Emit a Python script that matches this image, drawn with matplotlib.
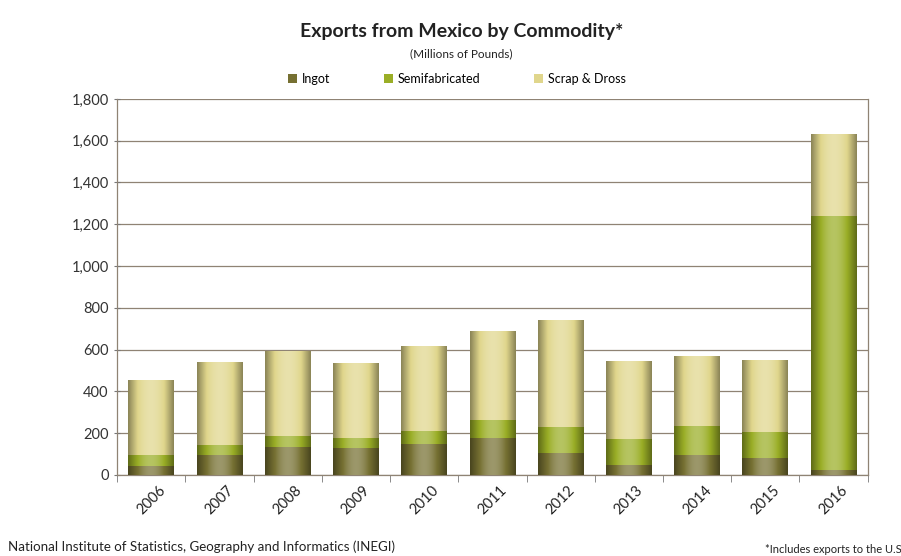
import numpy as np
import matplotlib
matplotlib.use("Agg")
import matplotlib.pyplot as plt
from matplotlib.colors import to_rgb

plt.rcParams['font.family'] = ['Lato', 'DejaVu Sans']

years = ['2006', '2007', '2008', '2009', '2010', '2011',
         '2012', '2013', '2014', '2015', '2016']
ingot = [40, 96, 133, 128, 150, 175, 104, 48, 96, 80, 25]
semifabricated = [56, 48, 51, 48, 62, 88, 127, 123, 139, 123, 1213]
scrap_dross = [356, 394, 407, 359, 406, 424, 512, 372, 335, 348, 396]

series_names = ['Ingot', 'Semifabricated', 'Scrap & Dross']
series_colors = ['#767032', '#9aae26', '#e0d68c']


def shade_bar(ax, patch, color):
    """Overlay a cylinder-like horizontal gradient on a bar patch."""
    x0, y0 = patch.get_x(), patch.get_y()
    w, h = patch.get_width(), patch.get_height()
    if h <= 0:
        return
    t = np.linspace(0, 1, 64)
    s = np.sin(np.pi * np.clip(t * 0.8 + 0.1, 0, 1)) ** 1.3
    light = 0.45 + 0.8 * s
    base = np.array(to_rgb(color))
    rgb = np.empty((1, t.size, 3))
    for i, l in enumerate(light):
        if l <= 1:
            rgb[0, i] = base * l
        else:
            rgb[0, i] = base + (1 - base) * (l - 1) * 1.1
    img = ax.imshow(np.clip(rgb, 0, 1), extent=(x0, x0 + w, y0, y0 + h),
                    aspect='auto', interpolation='bilinear', zorder=3)
    img.set_clip_path(patch)


fig = plt.figure(figsize=(9.01, 5.56), dpi=100)
ax = fig.add_axes([0.13, 0.146, 0.833, 0.676])

x = np.arange(len(years))
width = 0.67
bottom = np.zeros(len(years))
handles = []
for name, vals, col in zip(series_names,
                           [ingot, semifabricated, scrap_dross],
                           series_colors):
    bars = ax.bar(x, vals, width, bottom=bottom, color=col, label=name,
                  zorder=2, linewidth=0)
    for p in bars:
        shade_bar(ax, p, col)
    handles.append(bars)
    bottom += np.array(vals)

ax.set_xlim(-0.5, len(years) - 0.5)
ax.set_ylim(0, 1800)
ax.set_yticks(np.arange(0, 1801, 200))
ax.set_yticklabels([f'{v:,}' for v in range(0, 1801, 200)],
                   fontsize=10.5, color='#333333')
ax.yaxis.grid(True, color='#8f8374', linewidth=0.9, zorder=0)
ax.set_axisbelow(True)

# category ticks sit between the bars
ax.set_xticks(x)
ax.set_xticklabels(years, rotation=45, fontsize=10.5, color='#222222')
ax.tick_params(axis='x', length=0, pad=6)
ax.set_xticks(np.arange(-0.5, len(years)), minor=True)
ax.tick_params(axis='x', which='minor', length=5, direction='out',
               color='#777777')
ax.tick_params(axis='y', length=5, direction='inout', color='#777777')

for side in ['left', 'bottom', 'right']:
    ax.spines[side].set_color('#8f8374')
    ax.spines[side].set_linewidth(0.9)
ax.spines['top'].set_visible(False)

fig.text(0.512, 0.943, 'Exports from Mexico by Commodity*', ha='center',
         va='center', fontsize=14, fontweight='bold', color='#222222')
fig.text(0.512, 0.903, '(Millions of Pounds)', ha='center', va='center',
         fontsize=8.5, color='#222222')

fig.legend(handles, series_names, loc='center', ncol=3,
           bbox_to_anchor=(0.507, 0.858), frameon=False, fontsize=9,
           handlelength=0.7, handleheight=0.7, handletextpad=0.4,
           columnspacing=4.3)

fig.text(0.009, 0.016, 'National Institute of Statistics, Geography and '
         'Informatics (INEGI)', ha='left', va='center', fontsize=9.6,
         color='#222222')
fig.text(0.849, 0.012, '*Includes exports to the U.S', ha='left',
         va='center', fontsize=8, color='#222222')

fig.savefig('out.png', dpi=100)
